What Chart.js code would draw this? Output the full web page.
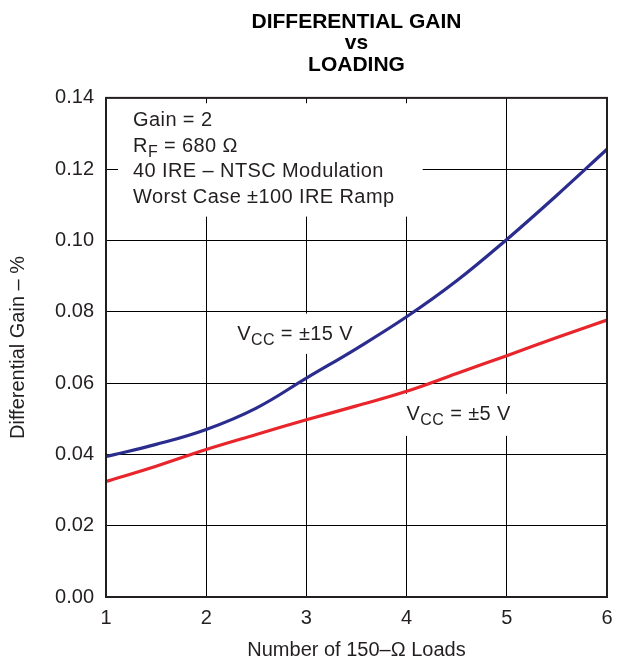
<!DOCTYPE html>
<html>
<head>
<meta charset="utf-8">
<script src="https://cdn.jsdelivr.net/npm/chart.js@4/dist/chart.umd.min.js"></script>
<style>
html,body{margin:0;padding:0;background:#fff;}
#wrap{width:633px;height:664px;}
</style>
</head>
<body>
<div id="wrap"><canvas id="c" width="633" height="664"></canvas></div>
<script>
// ---- data ----
const loads = [1, 1.5, 2, 2.5, 3, 3.5, 4, 4.5, 5, 5.5, 6];
const vcc15 = [0.0394, 0.0428, 0.0470, 0.0530, 0.0614, 0.0697, 0.0786, 0.0887, 0.1003, 0.1127, 0.1256];
const vcc5  = [0.0324, 0.0367, 0.0414, 0.0456, 0.0497, 0.0536, 0.0577, 0.0627, 0.0677, 0.0728, 0.0777];
const titleLines = ['DIFFERENTIAL GAIN', 'vs', 'LOADING'];
const xTitle = 'Number of 150\u2013\u03A9 Loads';
const yTitle = 'Differential Gain \u2013 %';
const noteLines = [
  ['Gain = 2'],
  ['R', 'F', ' = 680 \u03A9'],
  ['40 IRE \u2013 NTSC Modulation'],
  ['Worst Case \u00B1100 IRE Ramp']
];
const label15 = ['V', 'CC', ' = \u00B115 V'];
const label5 = ['V', 'CC', ' = \u00B15 V'];

const FONT = '"Liberation Sans", Arial, Helvetica, sans-serif';
const TXT = '#231f20';

function toPts(ys){ return loads.map((x,i)=>({x:x, y:ys[i]})); }

function drawSub(ctx, x, y, parts){
  ctx.font = '20px ' + FONT;
  ctx.fillText(parts[0], x, y);
  let w = ctx.measureText(parts[0]).width;
  if (parts.length > 1) {
    ctx.font = '16px ' + FONT;
    ctx.fillText(parts[1], x + w, y + 5);
    w += ctx.measureText(parts[1]).width;
    ctx.font = '20px ' + FONT;
    ctx.fillText(parts[2], x + w, y);
  }
}

const annot = {
  id: 'annot',
  beforeDatasetsDraw(chart){
    const ctx = chart.ctx;
    const xs = chart.scales.x, ys = chart.scales.y;
    ctx.save();
    ctx.fillStyle = '#ffffff';
    const bx = xs.getPixelForValue(1.12), by = ys.getPixelForValue(0.1385);
    ctx.fillRect(bx, by, xs.getPixelForValue(4.16) - bx, ys.getPixelForValue(0.1067) - by);
    const b2x = xs.getPixelForValue(2.24), b2y = ys.getPixelForValue(0.0795);
    ctx.fillRect(b2x, b2y, xs.getPixelForValue(3.52) - b2x, ys.getPixelForValue(0.0682) - b2y);
    const b3x = xs.getPixelForValue(3.96), b3y = ys.getPixelForValue(0.0570);
    ctx.fillRect(b3x, b3y, xs.getPixelForValue(5.08) - b3x, ys.getPixelForValue(0.0452) - b3y);

    ctx.fillStyle = TXT;
    ctx.textBaseline = 'alphabetic';
    ctx.textAlign = 'left';
    try { ctx.letterSpacing = '0.4px'; } catch(e) {}
    const nx = xs.getPixelForValue(1.27);
    const ny = ys.getPixelForValue(0.1321);
    noteLines.forEach((ln, i) => { drawSub(ctx, nx, ny + i * 25.7, ln); });
    drawSub(ctx, xs.getPixelForValue(2.31), ys.getPixelForValue(0.0721), label15);
    drawSub(ctx, xs.getPixelForValue(4.00), ys.getPixelForValue(0.0496), label5);
    ctx.restore();
  },
  afterDatasetsDraw(chart){
    const ctx = chart.ctx, a = chart.chartArea;
    ctx.save();
    ctx.strokeStyle = '#231f20';
    ctx.lineWidth = 2;
    ctx.strokeRect(a.left, a.top, a.right - a.left, a.bottom - a.top);
    ctx.restore();
  }
};

new Chart(document.getElementById('c'), {
  type: 'line',
  data: {
    datasets: [
      { label: 'VCC = ±15 V', data: toPts(vcc15), borderColor: '#2b2d8e', borderWidth: 3.2,
        pointRadius: 0, tension: 0.4, fill: false },
      { label: 'VCC = ±5 V', data: toPts(vcc5), borderColor: '#e8252b', borderWidth: 3.2,
        pointRadius: 0, tension: 0.4, fill: false }
    ]
  },
  plugins: [annot],
  options: {
    responsive: false,
    devicePixelRatio: 1,
    animation: false,
    layout: { padding: { left: 0, right: 26, top: 0, bottom: 0 } },
    plugins: {
      legend: { display: false },
      tooltip: { enabled: false },
      title: {
        display: true, text: titleLines, fullSize: false, color: '#000',
        font: { family: FONT, size: 21, weight: 'bold', lineHeight: 1.03 },
        padding: { top: 11, bottom: 22 }
      }
    },
    scales: {
      x: {
        type: 'linear', min: 1, max: 6,
        afterFit(s){ s.height = 67; },
        ticks: { stepSize: 1, padding: 9, color: TXT, font: { family: FONT, size: 20 } },
        grid: { color: '#000', lineWidth: 1, drawTicks: false },
        border: { display: false },
        title: { display: true, text: xTitle, color: TXT, font: { family: FONT, size: 20 },
                 padding: { top: 0, bottom: 2 } }
      },
      y: {
        type: 'linear', min: 0, max: 0.14,
        afterFit(s){ s.width = 106; },
        ticks: { stepSize: 0.02, padding: 12, color: TXT, font: { family: FONT, size: 20 },
                 callback: v => Number(v).toFixed(2) },
        grid: { color: '#000', lineWidth: 1, drawTicks: false },
        border: { display: false },
        title: { display: true, text: yTitle, color: TXT, font: { family: FONT, size: 20 },
                 padding: { top: 6, bottom: 0 } }
      }
    }
  }
});
</script>
</body>
</html>
